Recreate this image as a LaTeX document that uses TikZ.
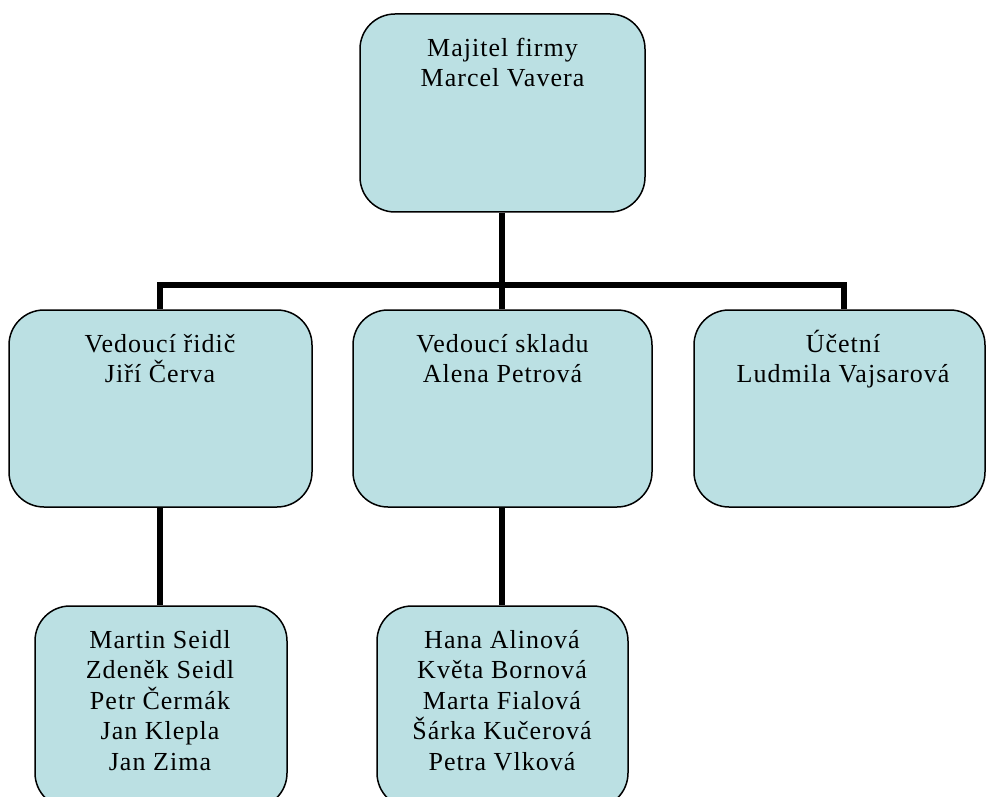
\documentclass[tikz,border=0pt]{standalone}
\usepackage{fontspec}
\setmainfont{Liberation Serif}[LetterSpace=4]
\definecolor{boxfill}{RGB}{187,224,227}
\tikzset{
  orgbox/.style={draw=black, line width=1.5pt, fill=boxfill, rounded corners=35pt, inner sep=0pt},
  lbl/.style={align=center, inner sep=0pt, anchor=north, font=\fontsize{26pt}{30.5pt}\selectfont},
  conn/.style={draw=black, line width=6pt}
}
\newcommand{\firstline}{\rule{0pt}{25pt}}
\begin{document}
\begin{tikzpicture}[x=1pt,y=-1pt]
\useasboundingbox (0,0) rectangle (986,797);
\begin{scope}
\clip (0,0) rectangle (986,797);
% connectors (behind boxes)
\coordinate (c1) at (160,285);
\coordinate (c3) at (844,285);
\coordinate (c2) at (502,285);
\coordinate (c4) at (160,0);
\coordinate (c5) at (502,0);
% boxes
\node[orgbox, minimum width=285pt, minimum height=198pt] (top) at (502.5,113) {};
\node[orgbox, minimum width=303pt, minimum height=197pt] (b1) at (160.5,408.5) {};
\node[orgbox, minimum width=299pt, minimum height=197pt] (b2) at (502.5,408.5) {};
\node[orgbox, minimum width=291pt, minimum height=197pt] (b3) at (839.5,408.5) {};
\node[orgbox, minimum width=252pt, minimum height=202pt] (b4) at (161,707) {};
\node[orgbox, minimum width=251pt, minimum height=202pt] (b5) at (502.5,707) {};
% connectors
\draw[conn] (c2 |- top.south) -- (c2 |- b2.north);
\draw[conn] (c1 |- b1.north) -- (c1) -- (c3) -- (c3 |- b3.north);
\draw[conn] (c4 |- b1.south) -- (c4 |- b4.north);
\draw[conn] (c5 |- b2.south) -- (c5 |- b5.north);
% labels
\node[lbl] (tTop) at (502.5,31) {\firstline Majitel firmy\\Marcel Vavera};
\node[lbl] (t1) at (160,327) {\firstline Vedoucí řidič\\Jiří Červa};
\node[lbl] (t2) at (502.5,327) {\firstline Vedoucí skladu\\Alena Petrová};
\node[lbl] (t3) at (843,327) {\firstline Účetní\\Ludmila Vajsarová};
\node[lbl] (t4) at (160,623) {\firstline Martin Seidl\\Zdeněk Seidl\\Petr Čermák\\Jan Klepla\\Jan Zima};
\node[lbl] (t5) at (502,623) {\firstline Hana Alinová\\Květa Bornová\\Marta Fialová\\Šárka Kučerová\\Petra Vlková};
\end{scope}
\end{tikzpicture}
\end{document}
